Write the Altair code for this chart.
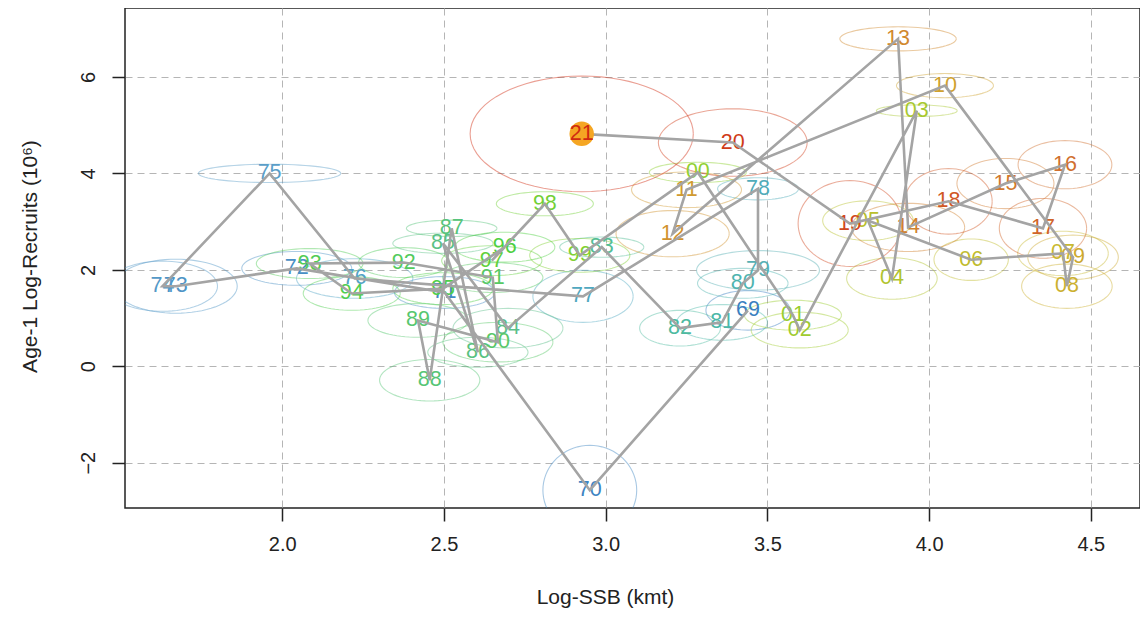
import altair as alt
import numpy as np
import pandas as pd

years = list(range(1969, 2022))
ssb = [3.44, 2.951, 2.502, 2.045, 1.671, 1.630, 1.961, 2.224, 2.93, 3.471,
       3.471, 3.424, 3.36, 3.23, 2.988, 2.698, 2.497, 2.605, 2.524, 2.456,
       2.42, 2.667, 2.651, 2.376, 2.085, 2.215, 2.497, 2.688, 2.648, 2.812,
       2.92, 3.285, 3.579, 3.60, 3.962, 3.885, 3.811, 4.13, 4.414, 4.426,
       4.445, 4.049, 3.25, 3.207, 3.904, 3.935, 4.236, 4.42, 4.352, 4.06,
       3.755, 3.393, 2.926]
rec = [1.16, -2.57, 1.53, 2.03, 1.66, 1.66, 4.00, 1.82, 1.45, 3.68,
       1.99, 1.72, 0.91, 0.79, 2.47, 0.79, 2.55, 0.29, 2.86, -0.29,
       0.95, 0.50, 1.84, 2.15, 2.13, 1.51, 1.61, 2.47, 2.19, 3.37,
       2.30, 4.02, 1.06, 0.75, 5.30, 1.82, 3.02, 2.21, 2.34, 1.66,
       2.26, 5.82, 3.66, 2.75, 6.79, 2.88, 3.79, 4.18, 2.86, 3.42,
       2.96, 4.64, 4.82]
# uncertainty ellipse semi-axes (data units)
rx = [0.13, 0.145, 0.155, 0.17, 0.19, 0.17, 0.22, 0.18, 0.155, 0.125,
      0.19, 0.14, 0.14, 0.125, 0.13, 0.17, 0.155, 0.155, 0.14, 0.155,
      0.155, 0.17, 0.155, 0.14, 0.165, 0.15, 0.155, 0.155, 0.155, 0.15,
      0.155, 0.15, 0.15, 0.15, 0.125, 0.14, 0.14, 0.115, 0.14, 0.14,
      0.14, 0.15, 0.17, 0.175, 0.18, 0.175, 0.15, 0.145, 0.135, 0.135,
      0.16, 0.23, 0.345]
ry = [0.41, 0.93, 0.33, 0.35, 0.56, 0.52, 0.19, 0.41, 0.54, 0.23,
      0.41, 0.31, 0.37, 0.37, 0.21, 0.41, 0.21, 0.31, 0.17, 0.43,
      0.35, 0.41, 0.31, 0.31, 0.31, 0.35, 0.33, 0.31, 0.31, 0.25,
      0.35, 0.21, 0.31, 0.37, 0.12, 0.43, 0.41, 0.43, 0.46, 0.46,
      0.46, 0.25, 0.37, 0.48, 0.25, 0.50, 0.52, 0.50, 0.62, 0.68,
      0.89, 0.70, 1.20]

color_stops = [1969, 1975, 1979, 1984, 1990, 1996, 2000, 2003, 2007, 2011, 2016, 2019, 2021]
color_range = ["#3a7fc0", "#5a9ec8", "#56b0b4", "#5cbf8a", "#58c868", "#4ed040",
               "#8fd030", "#a8c830", "#c8b830", "#d09a30", "#d07030", "#d04820", "#d02a10"]

labels = [f"{y % 100:02d}" for y in years]
pts = pd.DataFrame({"year": years, "ssb": ssb, "rec": rec, "lab": labels})

rows = []
t = np.linspace(0, 2 * np.pi, 73)
for y, cx, cy, a, b in zip(years, ssb, rec, rx, ry):
    for i, tt in enumerate(t):
        rows.append({"year": y, "i": i, "ex": cx + a * np.cos(tt), "ey": cy + b * np.sin(tt)})
ell = pd.DataFrame(rows)

xs = alt.Scale(domain=[1.514, 4.652], nice=False, zero=False)
ys = alt.Scale(domain=[-2.94, 7.43], nice=False, zero=False)
cs = alt.Scale(domain=color_stops, range=color_range, type="linear")

X = alt.X("ssb:Q", scale=xs, title="Log-SSB (kmt)",
          axis=alt.Axis(values=[2.0, 2.5, 3.0, 3.5, 4.0, 4.5], format=".1f",
                        titleX=480, titleY=89, titleBaseline="middle"))
Y = alt.Y("rec:Q", scale=ys, title="Age-1 Log-Recruits (10⁶)",
          axis=alt.Axis(values=[-2, 0, 2, 4, 6], labelAngle=270, labelAlign="center",
                        labelBaseline="bottom", titleX=-95, titleY=248,
                        titleBaseline="middle", labelPadding=14))

ellipses = alt.Chart(ell).mark_line(strokeWidth=1.1, opacity=0.45, clip=True).encode(
    x=alt.X("ex:Q", scale=xs), y=alt.Y("ey:Q", scale=ys),
    detail="year:N", order="i:Q",
    color=alt.Color("year:Q", scale=cs, legend=None))

text = alt.Chart(pts).mark_text(fontSize=21.5, font="Liberation Sans").encode(
    x=X, y=Y, text="lab:N",
    color=alt.Color("year:Q", scale=cs, legend=None))

path = alt.Chart(pts).mark_line(color="#a4a4a4", strokeWidth=2.6).encode(
    x=X, y=Y, order="year:Q")

last = pts[pts.year == 2021]
dot = alt.Chart(last).mark_point(filled=True, size=600, color="#f5a623", opacity=1).encode(x=X, y=Y)
dot_text = alt.Chart(last).mark_text(fontSize=21.5, font="Liberation Sans", color="#d02a10").encode(
    x=X, y=Y, text="lab:N")

chart = alt.layer(ellipses, text, path, dot, dot_text).properties(
    width=1015, height=500,
    autosize=alt.AutoSizeParams(type="none"),
    padding={"left": 117, "top": 0, "right": 0, "bottom": 100},
).configure_view(stroke="#222222", strokeWidth=1.5).configure_axis(
    grid=True, gridColor="#b5b5b5", gridDash=[7, 5], gridWidth=1,
    domain=False, tickColor="#222222", tickSize=13, tickWidth=1.5,
    labelFont="Liberation Sans", labelFontSize=20, labelColor="#222222",
    titleFont="Liberation Sans", titleFontSize=21, titleFontWeight="normal",
    titleColor="#222222", labelPadding=9,
).configure_axisX(labelPadding=13)

chart.save("out.html", embed_options={"renderer": "svg", "actions": False})
